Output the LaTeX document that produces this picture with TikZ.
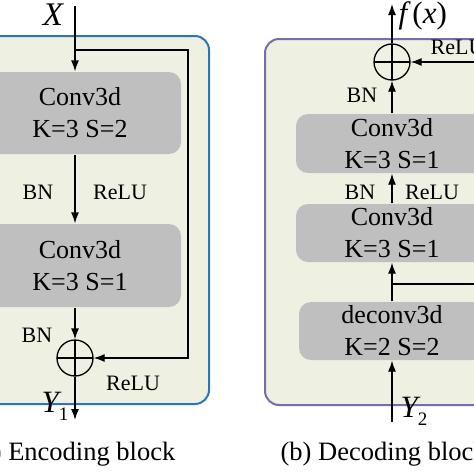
\documentclass[tikz,border=0pt]{standalone}
\usepackage{fontspec}
\setmainfont{Liberation Serif}
\usetikzlibrary{arrows.meta, positioning, calc}
\definecolor{panelfill}{HTML}{EEF0E2}
\definecolor{encblue}{HTML}{2E75B6}
\definecolor{decpurple}{HTML}{7B6BA8}
\definecolor{convgray}{HTML}{BFBFBF}
\newcommand{\subidx}[1]{\raisebox{-8pt}{\fontsize{19}{20}\selectfont\upshape #1}}

\begin{document}
\begin{tikzpicture}[x=1pt, y=-1pt, >={Latex[length=11pt,width=8pt]}, line width=1.3pt,
    panel/.style={draw, rounded corners=14pt, line width=2pt, fill=panelfill},
    conv/.style={fill=convgray, rounded corners=12pt, align=center, inner sep=0pt,
                 font=\fontsize{26}{32}\selectfont},
    sum/.style={circle, draw, minimum size=36pt, inner sep=0pt,
                path picture={\draw (path picture bounding box.north) -- (path picture bounding box.south)
                                    (path picture bounding box.west) -- (path picture bounding box.east);}},
    lbl/.style={inner sep=0pt, font=\fontsize{22}{26}\selectfont},
    var/.style={inner sep=0pt, font=\fontsize{31}{34}\selectfont\itshape},
    caption/.style={inner sep=0pt, font=\fontsize{26.5}{30}\selectfont}]
    \useasboundingbox (0,0) rectangle (474,474);

    % encoding block
    \node[panel, draw=encblue, minimum width=229pt, minimum height=368pt] (enc) at (94.5,220) {};
    \node[conv, minimum width=202pt, minimum height=82pt] (conv1) at (80,113) {Conv3d\\K=3 S=2};
    \node[conv, minimum width=202pt, minimum height=83pt] (conv2) at (80,265.5) {Conv3d\\K=3 S=1};
    \node[sum] (add1) at (75,358) {};
    \coordinate (xin) at (75,6);
    \coordinate (fb) at (188,50);
    \coordinate (y1) at (75,420);
    \node[var, font=\fontsize{33}{36}\selectfont\itshape] (xlbl) at (53,15) {X};
    \node[var] (y1lbl) at (55,406) {Y\subidx{1}};
    \draw[->] (xin) -- (xin |- conv1.north);
    \draw[->] (xin |- fb) -- (fb) |- (add1.east);
    \draw[->] (conv1.south -| add1) -- (conv2.north -| add1);
    \draw[->] (conv2.south -| add1) -- (add1.north);
    \draw[->] (add1.south) -- (y1);
    \node[lbl] (bn1) at (38,192) {BN};
    \node[lbl] (relu1) at (120,192) {ReLU};
    \node[lbl] (bn2) at (37,335) {BN};
    \node[lbl] (relu2) at (133,383) {ReLU};
    \node[caption, anchor=east] (capa) at (176,454) {(a) Encoding block};

    % decoding block
    \node[panel, draw=decpurple, minimum width=245pt, minimum height=366pt] (dec) at (387.5,222) {};
    \node[conv, minimum width=192pt, minimum height=59pt] (convA) at (392,143.5) {Conv3d\\K=3 S=1};
    \node[conv, minimum width=192pt, minimum height=58pt] (convB) at (392,233) {Conv3d\\K=3 S=1};
    \node[conv, minimum width=186pt, minimum height=58pt] (deconv) at (392,331) {deconv3d\\K=2 S=2};
    \node[sum] (add2) at (392,62) {};
    \coordinate (fout) at (392,4);
    \coordinate (y2) at (392,422);
    \coordinate (br) at (392,284);
    \coordinate (skip) at (484,284);
    \node[var, anchor=west] (flbl) at (398,16) {f\,\upshape(\itshape x\upshape)};
    \node[var] (y2lbl) at (414,411) {Y\subidx{2}};
    \draw[->] (add2.north) -- (fout);
    \draw[->] (convA.north -| add2) -- (add2.south);
    \draw[->] (convB.north -| add2) -- (convA.south -| add2);
    \draw[->] (deconv.north -| add2) -- (convB.south -| add2);
    \draw[->] (y2) -- (deconv.south -| add2);
    \draw[->] (br) -- (skip) |- (add2.east);
    \node[lbl] (bn3) at (362,95) {BN};
    \node[lbl, anchor=west] (relu3) at (430,47) {ReLU};
    \node[lbl] (bn4) at (360,192) {BN};
    \node[lbl] (relu4) at (432,192) {ReLU};
    \node[caption, anchor=west] (capb) at (280,454) {(b) Decoding block};
\end{tikzpicture}
\end{document}
